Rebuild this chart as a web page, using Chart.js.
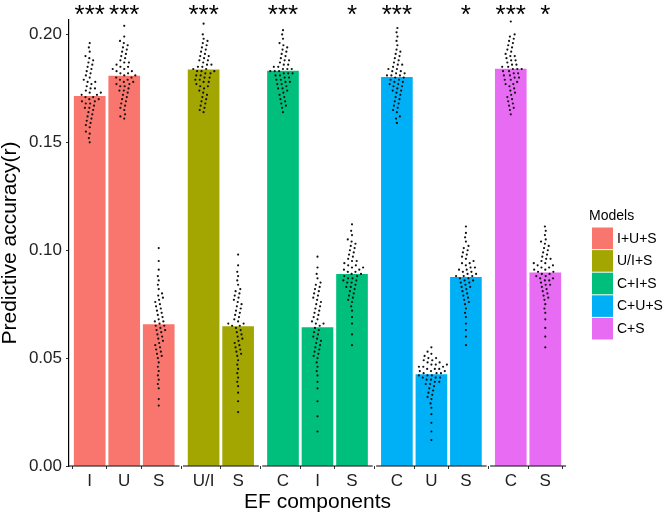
<!DOCTYPE html>
<html>
<head>
<meta charset="utf-8">
<script src="https://cdn.jsdelivr.net/npm/chart.js@4.4.1/dist/chart.umd.min.js"></script>
<style>
  html, body { margin: 0; padding: 0; background: #fff; }
  #wrap { width: 664px; height: 517px; }
</style>
</head>
<body>
<div id="wrap"><canvas id="accChart" width="664" height="517"></canvas></div>
<script>
// models and their EF components
const models = ['I+U+S', 'U/I+S', 'C+I+S', 'C+U+S', 'C+S'];
const components = [['I', 'U', 'S'], ['U/I', 'S'], ['C', 'I', 'S'], ['C', 'U', 'S'], ['C', 'S']];

// bar heights (mean predictive accuracy)
const meanIUS = [0.1713, 0.1807, 0.0655];
const meanUIS = [0.1836, 0.0646];
const meanCIS = [0.1830, 0.0642, 0.0888];
const meanCUS = [0.1801, 0.0424, 0.0874];
const meanCS = [0.1840, 0.0895];

// significance marks above each bar
const stars = [['***', '***', ''], ['***', ''], ['***', '', '*'], ['***', '', '*'], ['***', '*']];

// y axis ticks
const yTicks = [0, 0.05, 0.10, 0.15, 0.20];

// individual predictions (dots)
const iusDots = [
  [0.196,0.194,0.192,0.190,0.189,0.188,0.187,0.186,0.185,0.184,0.183,0.182,0.181,0.180,0.179,0.178,0.178,0.177,0.176,0.175,
   0.175,0.174,0.173,0.173,0.172,0.172,0.171,0.171,0.170,0.170,0.169,0.169,0.168,0.168,0.167,0.166,0.166,0.165,0.164,0.163,
   0.162,0.161,0.160,0.159,0.158,0.157,0.155,0.154,0.152,0.150],
  [0.204,0.199,0.197,0.196,0.195,0.194,0.193,0.192,0.191,0.190,0.189,0.188,0.187,0.187,0.186,0.185,0.185,0.184,0.184,0.183,
   0.183,0.182,0.182,0.181,0.181,0.180,0.180,0.179,0.179,0.178,0.178,0.177,0.177,0.176,0.176,0.175,0.174,0.174,0.173,0.172,
   0.171,0.170,0.169,0.168,0.167,0.166,0.165,0.163,0.162,0.161],
  [0.101,0.095,0.091,0.088,0.086,0.084,0.082,0.080,0.079,0.078,0.077,0.076,0.075,0.074,0.073,0.072,0.071,0.070,0.069,0.068,
   0.067,0.067,0.066,0.065,0.065,0.064,0.063,0.063,0.062,0.061,0.060,0.059,0.058,0.057,0.056,0.055,0.054,0.053,0.052,0.051,
   0.050,0.048,0.046,0.044,0.042,0.040,0.038,0.036,0.031,0.028]
];
const uisDots = [
  [0.205,0.200,0.198,0.197,0.196,0.195,0.194,0.193,0.192,0.191,0.190,0.190,0.189,0.188,0.188,0.187,0.186,0.186,0.185,0.185,
   0.184,0.184,0.183,0.183,0.183,0.182,0.182,0.181,0.181,0.180,0.180,0.179,0.179,0.178,0.178,0.177,0.176,0.176,0.175,0.174,
   0.173,0.172,0.171,0.170,0.169,0.168,0.167,0.166,0.165,0.164],
  [0.098,0.093,0.090,0.088,0.086,0.084,0.082,0.081,0.080,0.079,0.078,0.077,0.076,0.075,0.074,0.073,0.072,0.071,0.070,0.069,
   0.068,0.067,0.066,0.066,0.065,0.065,0.064,0.063,0.062,0.061,0.060,0.059,0.058,0.057,0.056,0.055,0.054,0.053,0.052,0.051,
   0.049,0.047,0.045,0.043,0.041,0.039,0.037,0.034,0.030,0.025]
];
const cisDots = [
  [0.202,0.200,0.198,0.196,0.195,0.194,0.193,0.192,0.191,0.190,0.189,0.188,0.188,0.187,0.186,0.186,0.185,0.185,0.184,0.184,
   0.184,0.183,0.183,0.183,0.182,0.182,0.182,0.181,0.181,0.180,0.180,0.179,0.179,0.178,0.178,0.177,0.177,0.176,0.175,0.175,
   0.174,0.173,0.172,0.171,0.170,0.169,0.168,0.167,0.166,0.164],
  [0.097,0.092,0.089,0.087,0.085,0.084,0.083,0.082,0.081,0.080,0.079,0.078,0.077,0.076,0.075,0.074,0.073,0.072,0.071,0.070,
   0.069,0.068,0.067,0.066,0.066,0.065,0.064,0.063,0.062,0.061,0.060,0.059,0.058,0.057,0.056,0.055,0.054,0.053,0.052,0.051,
   0.050,0.048,0.046,0.044,0.042,0.039,0.036,0.030,0.023,0.016],
  [0.112,0.109,0.107,0.105,0.104,0.103,0.102,0.101,0.100,0.099,0.098,0.097,0.096,0.095,0.095,0.094,0.093,0.093,0.092,0.092,
   0.091,0.091,0.090,0.090,0.089,0.089,0.088,0.088,0.087,0.087,0.086,0.086,0.085,0.085,0.084,0.083,0.083,0.082,0.081,0.080,
   0.079,0.078,0.077,0.076,0.074,0.072,0.069,0.066,0.061,0.056]
];
const cusDots = [
  [0.203,0.201,0.199,0.197,0.195,0.193,0.192,0.191,0.190,0.189,0.188,0.187,0.186,0.186,0.185,0.184,0.184,0.183,0.183,0.182,
   0.182,0.181,0.181,0.181,0.180,0.180,0.179,0.179,0.178,0.178,0.177,0.177,0.176,0.176,0.175,0.174,0.174,0.173,0.172,0.171,
   0.170,0.169,0.168,0.167,0.166,0.165,0.164,0.162,0.161,0.159],
  [0.055,0.053,0.052,0.051,0.050,0.050,0.049,0.049,0.048,0.048,0.047,0.047,0.047,0.046,0.046,0.046,0.045,0.045,0.045,0.044,
   0.044,0.044,0.043,0.043,0.043,0.042,0.042,0.042,0.041,0.041,0.041,0.040,0.040,0.039,0.039,0.038,0.038,0.037,0.036,0.035,
   0.034,0.033,0.032,0.031,0.029,0.027,0.024,0.020,0.016,0.012],
  [0.111,0.108,0.106,0.104,0.102,0.101,0.100,0.099,0.098,0.097,0.096,0.095,0.094,0.094,0.093,0.092,0.092,0.091,0.091,0.090,
   0.090,0.089,0.089,0.088,0.088,0.088,0.087,0.087,0.086,0.086,0.085,0.085,0.084,0.083,0.083,0.082,0.081,0.080,0.079,0.078,
   0.077,0.076,0.075,0.073,0.071,0.069,0.066,0.063,0.060,0.056]
];
const csDots = [
  [0.206,0.200,0.199,0.198,0.197,0.196,0.195,0.194,0.193,0.192,0.191,0.190,0.190,0.189,0.188,0.188,0.187,0.186,0.186,0.185,
   0.185,0.184,0.184,0.184,0.183,0.183,0.182,0.182,0.181,0.181,0.180,0.180,0.179,0.179,0.178,0.177,0.177,0.176,0.175,0.174,
   0.173,0.172,0.171,0.170,0.169,0.168,0.167,0.166,0.165,0.163],
  [0.111,0.109,0.107,0.105,0.104,0.103,0.102,0.101,0.100,0.099,0.098,0.097,0.096,0.096,0.095,0.094,0.094,0.093,0.093,0.092,
   0.092,0.091,0.091,0.090,0.090,0.089,0.089,0.088,0.088,0.087,0.087,0.086,0.086,0.085,0.084,0.084,0.083,0.082,0.081,0.080,
   0.079,0.078,0.077,0.075,0.073,0.071,0.068,0.064,0.060,0.055]
];

const means = [meanIUS, meanUIS, meanCIS, meanCUS, meanCS];
const dotSets = [iusDots, uisDots, cisDots, cusDots, csDots];
const colors = ['#F8766D', '#A3A500', '#00BF7D', '#00B0F6', '#E76BF3'];
const FONT = '"Liberation Sans", Arial, Helvetica, sans-serif';

// facet layout in category units (ggplot-like: 0.6 expansion each side, small gap)
const EXPAND = 0.6, GAP = 0.1;
const positions = [];
const panels = [];
let cursor = 0;
components.forEach(cats => {
  const w = cats.length - 1 + 2 * EXPAND;
  panels.push([cursor, cursor + w]);
  positions.push(cats.map((c, k) => cursor + EXPAND + k));
  cursor += w + GAP;
});
const xMax = cursor - GAP;
const allPos = positions.flat();
const allLabels = components.flat();
const allStars = stars.flat();

const datasets = [];
models.forEach((m, p) => {
  datasets.push({
    type: 'bar',
    label: m,
    data: positions[p].map((x, k) => ({ x: x, y: means[p][k] })),
    backgroundColor: colors[p],
    borderWidth: 0,
    barThickness: 31,
    grouped: false,
    order: 1
  });
});
models.forEach((m, p) => {
  positions[p].forEach((x, k) => {
    datasets.push({
      type: 'scatter',
      label: m + ' dots',
      base: x,
      data: dotSets[p][k].map(v => ({ x: x, y: v })),
      pointRadius: 1.1,
      pointHoverRadius: 1.1,
      pointBackgroundColor: '#111',
      pointBorderWidth: 0,
      order: 0
    });
  });
});

// simple beeswarm: each dot goes as close to the centre as it can without overlap
function swarm(ys, d) {
  const idx = ys.map((y, i) => i).sort((a, b) => ys[b] - ys[a]);
  const placed = [];
  const out = new Array(ys.length);
  idx.forEach(i => {
    const y = ys[i];
    const near = placed.filter(p => Math.abs(p.y - y) < d);
    let cands = [0];
    near.forEach(p => {
      const dx = Math.sqrt(d * d - (p.y - y) * (p.y - y));
      cands.push(p.x + dx, p.x - dx);
    });
    cands = cands.filter(c => near.every(p => (p.x - c) ** 2 + (p.y - y) ** 2 >= d * d - 1e-6));
    cands.sort((a, b) => Math.abs(a) - Math.abs(b) || a - b);
    out[i] = cands[0];
    placed.push({ x: cands[0], y: y });
  });
  return out;
}

const starsPlugin = {
  id: 'stars',
  afterDatasetsDraw(chart) {
    const { ctx, chartArea } = chart;
    const xs = chart.scales.x;
    ctx.save();
    ctx.font = '26px ' + FONT;
    ctx.fillStyle = '#000';
    ctx.textAlign = 'center';
    ctx.textBaseline = 'alphabetic';
    allPos.forEach((x, i) => {
      if (allStars[i]) ctx.fillText(allStars[i], xs.getPixelForValue(x), chartArea.top + 3);
    });
    ctx.restore();
  }
};

const facetAxisPlugin = {
  id: 'facetAxis',
  afterDraw(chart) {
    const { ctx } = chart;
    const xs = chart.scales.x, ys = chart.scales.y;
    const y = ys.getPixelForValue(0);
    ctx.save();
    ctx.strokeStyle = '#000';
    ctx.lineWidth = 1.2;
    panels.forEach(([a, b]) => {
      ctx.beginPath();
      ctx.moveTo(xs.getPixelForValue(a), y);
      ctx.lineTo(xs.getPixelForValue(b), y);
      ctx.stroke();
    });
    ctx.restore();
  }
};

const legendPlugin = {
  id: 'modelLegend',
  afterDraw(chart) {
    const { ctx, chartArea } = chart;
    const x0 = chartArea.right + 26, y0 = 227.5, pitch = 22.6;
    ctx.save();
    ctx.font = '14px ' + FONT;
    ctx.textBaseline = 'middle';
    ctx.fillStyle = '#000';
    ctx.fillText('Models', x0 - 3, y0 - 11);
    chart.data.datasets.filter(d => d.type === 'bar').forEach((d, i) => {
      ctx.fillStyle = d.backgroundColor;
      ctx.fillRect(x0, y0 + i * pitch, 21, pitch - 1);
      ctx.fillStyle = '#000';
      ctx.fillText(d.label, x0 + 25, y0 + i * pitch + pitch / 2);
    });
    ctx.restore();
  }
};

const chart = new Chart(document.getElementById('accChart'), {
  type: 'bar',
  data: { datasets: datasets },
  options: {
    responsive: false,
    animation: false,
    events: [],
    layout: { padding: { top: 20, right: 98, left: 0, bottom: 0 } },
    plugins: { legend: { display: false }, tooltip: { enabled: false } },
    scales: {
      x: {
        type: 'linear',
        min: 0,
        max: xMax,
        offset: false,
        afterBuildTicks: axis => { axis.ticks = allPos.map(v => ({ value: v })); },
        afterFit: axis => { axis.height = 51; },
        ticks: {
          autoSkip: false,
          maxRotation: 0,
          padding: 2,
          color: '#222',
          font: { family: FONT, size: 17 },
          callback: (v, i) => allLabels[i]
        },
        grid: { drawOnChartArea: false, tickLength: 3, color: '#333' },
        border: { display: false },
        title: {
          display: true,
          text: 'EF components',
          color: '#000',
          font: { family: FONT, size: 21, lineHeight: 1 },
          padding: { top: 0, bottom: 4 }
        }
      },
      y: {
        min: 0,
        max: 0.2067,
        afterBuildTicks: axis => { axis.ticks = yTicks.map(v => ({ value: v })); },
        afterFit: axis => { axis.width = 69; },
        ticks: {
          padding: 4,
          color: '#222',
          font: { family: FONT, size: 17 },
          callback: v => v.toFixed(2)
        },
        grid: { drawOnChartArea: false, tickLength: 3, color: '#333' },
        border: { display: true, color: '#000', width: 1.2 },
        title: {
          display: true,
          text: 'Predictive accuracy(r)',
          color: '#000',
          font: { family: FONT, size: 21, lineHeight: 1 },
          padding: { top: 0, bottom: 0 }
        }
      }
    }
  },
  plugins: [starsPlugin, facetAxisPlugin, legendPlugin]
});

// lay the dots out as a beeswarm using the chart's own scales
function placeDots() {
  const xs = chart.scales.x, ys = chart.scales.y;
  const pxPerUnit = xs.getPixelForValue(1) - xs.getPixelForValue(0);
  chart.data.datasets.forEach(ds => {
    if (ds.type !== 'scatter') return;
    const yPx = ds.data.map(pt => ys.getPixelForValue(pt.y));
    const off = swarm(yPx, 4.4);
    ds.data.forEach((pt, i) => { pt.x = ds.base + off[i] / pxPerUnit; });
  });
  chart.update('none');
}
placeDots();
</script>
</body>
</html>
